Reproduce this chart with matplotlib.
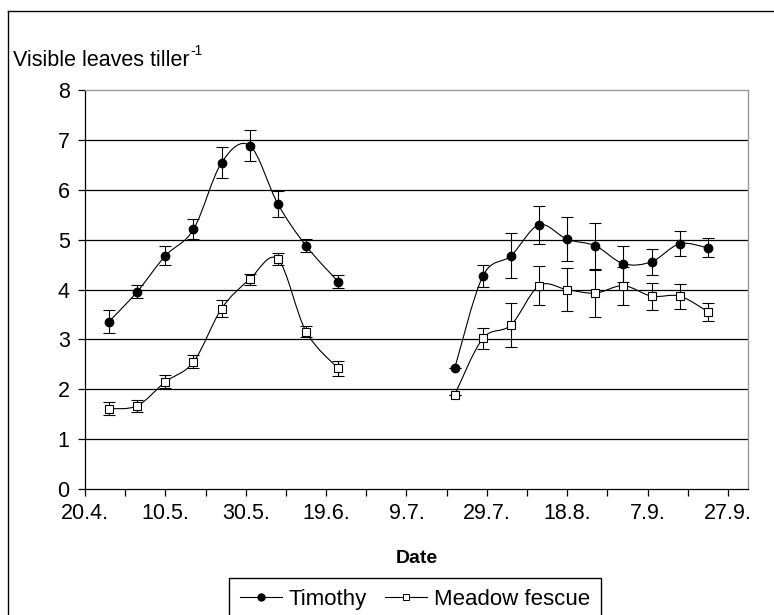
import numpy as np
import matplotlib
matplotlib.use('Agg')
import matplotlib.pyplot as plt
from matplotlib.path import Path
from matplotlib.patches import PathPatch
from matplotlib.lines import Line2D

plt.rcParams['font.family'] = ['Liberation Sans', 'DejaVu Sans']

# day of year (20.4. = 110)
tim_days_1 = [116, 123, 130, 137, 144, 151, 158, 165, 173]
tim_vals_1 = [3.36, 3.96, 4.68, 5.21, 6.55, 6.89, 5.72, 4.88, 4.16]
tim_err_1 = [0.23, 0.13, 0.19, 0.20, 0.31, 0.31, 0.26, 0.13, 0.13]

fes_days_1 = [116, 123, 130, 137, 144, 151, 158, 165, 173]
fes_vals_1 = [1.61, 1.67, 2.15, 2.55, 3.62, 4.21, 4.61, 3.16, 2.42]
fes_err_1 = [0.13, 0.12, 0.13, 0.13, 0.17, 0.11, 0.12, 0.12, 0.15]

tim_days_2 = [202, 209, 216, 223, 230, 237, 244, 251, 258, 265]
tim_vals_2 = [2.42, 4.27, 4.68, 5.30, 5.01, 4.88, 4.52, 4.56, 4.92, 4.84]
tim_err_2 = [0.0, 0.22, 0.45, 0.38, 0.44, 0.46, 0.36, 0.26, 0.25, 0.19]

fes_days_2 = [202, 209, 216, 223, 230, 237, 244, 251, 258, 265]
fes_vals_2 = [1.89, 3.02, 3.29, 4.08, 4.00, 3.93, 4.08, 3.87, 3.87, 3.56]
fes_err_2 = [0.0, 0.21, 0.44, 0.39, 0.43, 0.47, 0.38, 0.27, 0.25, 0.18]

tick_days = [110, 130, 150, 170, 190, 210, 230, 250, 270]
tick_labels = ['20.4.', '10.5.', '30.5.', '19.6.', '9.7.', '29.7.', '18.8.', '7.9.', '27.9.']


def smooth_path(xs, ys):
    # Excel-style smoothed line: cubic Bezier through the points
    xs = [xs[0]] + list(xs) + [xs[-1]]
    ys = [ys[0]] + list(ys) + [ys[-1]]
    verts = [(xs[1], ys[1])]
    codes = [Path.MOVETO]
    for i in range(1, len(xs) - 2):
        c1 = (xs[i] + (xs[i + 1] - xs[i - 1]) / 6, ys[i] + (ys[i + 1] - ys[i - 1]) / 6)
        c2 = (xs[i + 1] - (xs[i + 2] - xs[i]) / 6, ys[i + 1] - (ys[i + 2] - ys[i]) / 6)
        verts += [c1, c2, (xs[i + 1], ys[i + 1])]
        codes += [Path.CURVE4] * 3
    return Path(verts, codes)


fig = plt.figure(figsize=(7.74, 6.15), dpi=100)
ax = fig.add_axes([85 / 774, 1 - 489 / 615, 663 / 774, 398.7 / 615])

for y in range(1, 8):
    ax.axhline(y, color='black', lw=0.9, zorder=0)

series = [
    (tim_days_1, tim_vals_1, tim_err_1, 'o', 'black'),
    (tim_days_2, tim_vals_2, tim_err_2, 'o', 'black'),
    (fes_days_1, fes_vals_1, fes_err_1, 's', 'white'),
    (fes_days_2, fes_vals_2, fes_err_2, 's', 'white'),
]
for d, v, e, m, fc in series:
    ax.add_patch(PathPatch(smooth_path(d, v), fill=False, lw=0.8, edgecolor='black', zorder=2))
    ax.errorbar(d, v, yerr=e, fmt='none', ecolor='black', elinewidth=0.8,
                capsize=4, capthick=0.8, zorder=3)
    ax.plot(d, v, linestyle='none', marker=m, markersize=6.2 if m == 'o' else 6,
            markerfacecolor=fc, markeredgecolor='black', markeredgewidth=0.8, zorder=4)

ax.set_xlim(110, 275)
ax.set_ylim(0, 8)
ax.set_yticks(range(0, 9))
ax.set_xticks(tick_days)
ax.set_xticklabels(tick_labels)
ax.set_xticks(np.arange(120, 275, 20), minor=True)
ax.tick_params(axis='both', which='both', direction='out', length=5, width=0.9,
               labelsize=15.5, pad=6)
ax.tick_params(axis='x', pad=5)

for s in ['left', 'bottom']:
    ax.spines[s].set_color('black')
    ax.spines[s].set_linewidth(0.9)
for s in ['top', 'right']:
    ax.spines[s].set_color('#999999')
    ax.spines[s].set_linewidth(1.0)

ax.set_xlabel('Date', fontsize=14, fontweight='bold', labelpad=19)

ylab = fig.text(13 / 774, 1 - 60 / 615, 'Visible leaves tiller', fontsize=15.5,
                va='center', ha='left')
fig.canvas.draw()
bb = ylab.get_window_extent()
fig.text(bb.x1 / 774 + 0.001, 1 - 51 / 615, '-1', fontsize=10, va='center', ha='left')

# outer chart frame (cropped on the right and bottom)
fig.add_artist(Line2D([8 / 774, 8 / 774], [0, 1 - 11 / 615], color='black', lw=1))
fig.add_artist(Line2D([8 / 774, 1], [1 - 11 / 615, 1 - 11 / 615], color='black', lw=1))

handles = [
    Line2D([], [], color='black', lw=0.8, marker='o', markersize=5, markerfacecolor='black'),
    Line2D([], [], color='black', lw=0.8, marker='s', markersize=5, markerfacecolor='white',
           markeredgewidth=0.7),
]
fig.legend(handles, ['Timothy', 'Meadow fescue'], loc='upper center',
           bbox_to_anchor=(415 / 774, 1 - 578 / 615), ncol=2, fontsize=16,
           frameon=True, fancybox=False, edgecolor='black', handlelength=1.9,
           handletextpad=0.3, columnspacing=0.8, borderpad=0.5, borderaxespad=0,
           framealpha=1)

fig.savefig('out.png', dpi=100)
